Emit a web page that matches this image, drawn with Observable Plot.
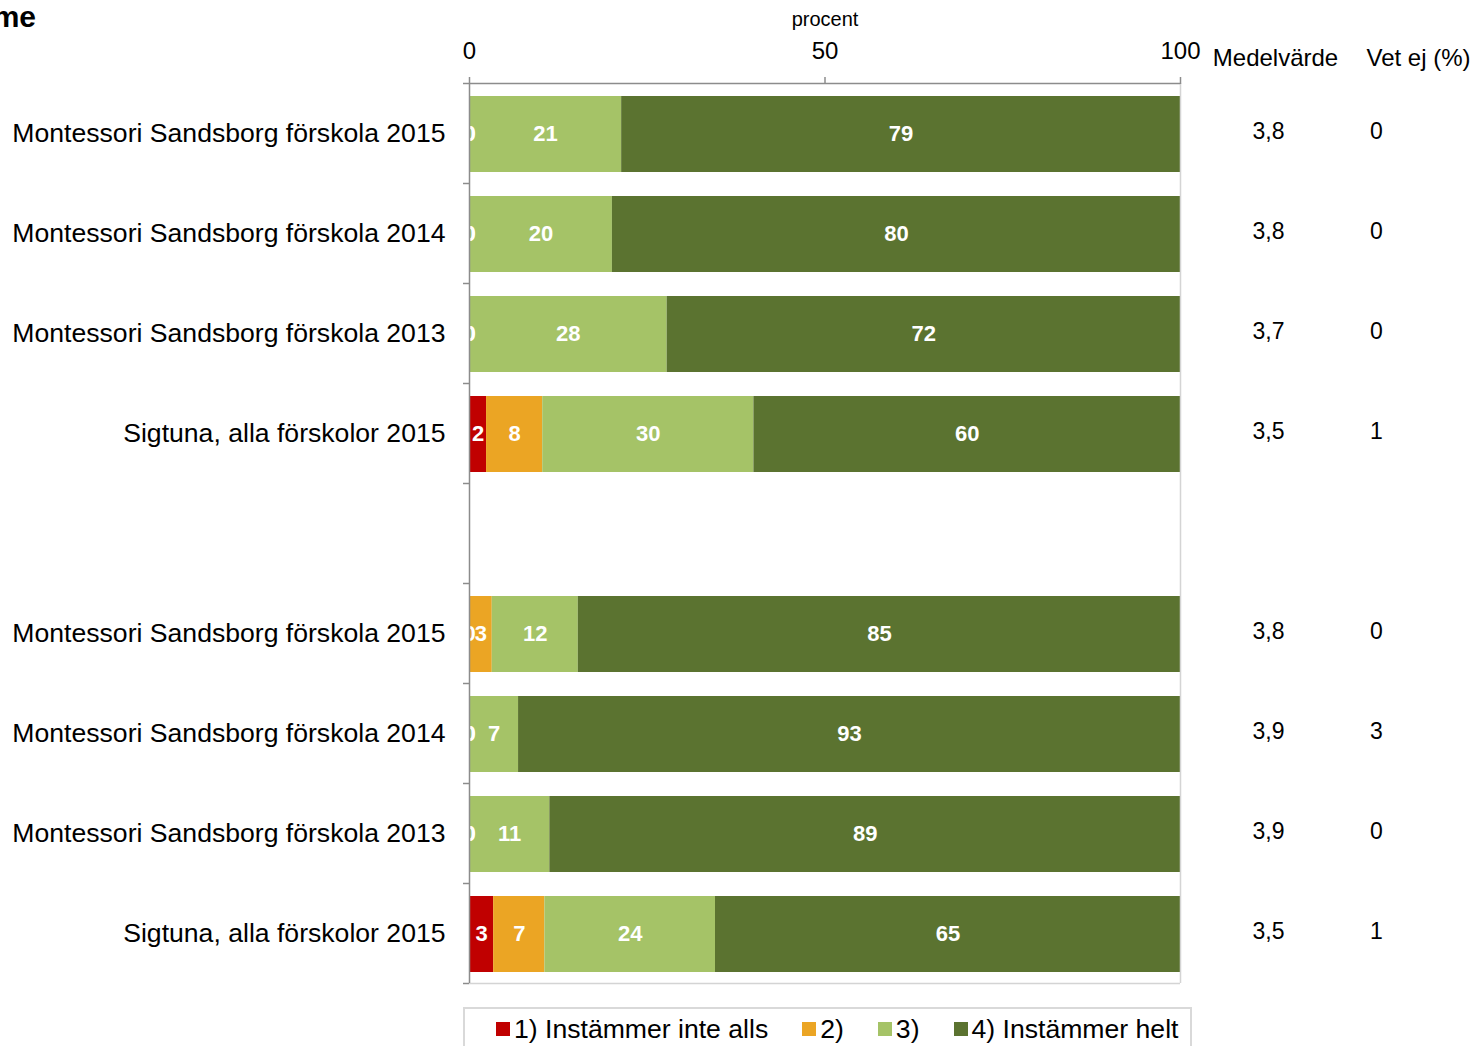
<!DOCTYPE html>
<html><head><meta charset="utf-8">
<script src="https://cdn.jsdelivr.net/npm/d3@7"></script>
<script src="https://cdn.jsdelivr.net/npm/@observablehq/plot@0.6"></script>
<style>
body{margin:0;background:#fff;font-family:"Liberation Sans",Arial,sans-serif;}
#wrap{position:relative;width:1474px;height:1046px;overflow:hidden;}
#title{position:absolute;right:calc(1474px - 36px);top:1px;font-weight:bold;font-size:30px;line-height:32px;white-space:nowrap;}
#chart svg{display:block;}
#legend{position:absolute;left:463px;top:1007px;width:729px;height:50px;border:2px solid #d9d9d9;border-bottom:none;display:flex;align-items:flex-start;padding-top:5px;box-sizing:border-box;padding-left:31px;white-space:nowrap;}
.item{display:flex;align-items:center;margin-right:34px;font-size:26.6px;line-height:30px;color:#000;flex-shrink:0;white-space:nowrap;}
.sw{width:14px;height:14px;margin-right:4px;flex-shrink:0;}
</style></head><body>
<div id="wrap"><div id="title">me</div><div id="chart"></div><div id="legend"></div></div>
<script>
const rowLabels = [
  "Montessori Sandsborg förskola 2015",
  "Montessori Sandsborg förskola 2014",
  "Montessori Sandsborg förskola 2013",
  "Sigtuna, alla förskolor 2015",
  "Montessori Sandsborg förskola 2015",
  "Montessori Sandsborg förskola 2014",
  "Montessori Sandsborg förskola 2013",
  "Sigtuna, alla förskolor 2015"
];
const slots = [0, 1, 2, 3, 5, 6, 7, 8];
const cat1 = [0, 0, 0, 2.4, 0, 0, 0, 3.4];
const cat2 = [0, 0, 0, 7.9, 3.2, 0, 0, 7.2];
const cat3 = [21.4, 20.1, 27.8, 29.7, 12.1, 6.9, 11.3, 24];
const cat4 = [78.6, 79.9, 72.2, 60, 84.7, 93.1, 88.7, 65.4];
const medel = ["3,8", "3,8", "3,7", "3,5", "3,8", "3,9", "3,9", "3,5"];
const vetej = ["0", "0", "0", "1", "0", "3", "0", "1"];
const categories = ["1) Instämmer inte alls", "2)", "3)", "4) Instämmer helt"];
const colors = ["#C00000", "#EBA524", "#A5C367", "#5B7330"];
const xTicks = [0, 50, 100];
const yBoundaries = [0, 1, 2, 3, 4, 5, 6, 7, 8, 9];

const segs = [];
rowLabels.forEach((lab, i) => {
  let acc = 0;
  [cat1, cat2, cat3, cat4].forEach((arr, k) => {
    const v = arr[i];
    segs.push({slot: slots[i], cat: categories[k], x1: acc, x2: acc + v, v, mid: acc + v / 2});
    acc += v;
  });
});
const rows = rowLabels.map((label, i) => ({label, slot: slots[i], medel: medel[i], vetej: vetej[i]}));

const font = "Liberation Sans, Arial, sans-serif";
const chart = Plot.plot({
  width: 1474,
  height: 1000,
  marginLeft: 469,
  marginRight: 294,
  marginTop: 83,
  marginBottom: 17,
  style: {fontFamily: font, background: "white"},
  x: {domain: [0, 100]},
  y: {domain: [0, 9], reverse: true},
  color: {domain: categories, range: colors},
  marks: [
    Plot.rectX(segs, {x1: "x1", x2: "x2", y1: d => d.slot, y2: d => d.slot + 1, fill: "cat", insetTop: 13, insetBottom: 11}),
    Plot.text(segs, {x: "mid", y: d => d.slot + 0.5, text: d => String(Math.round(d.v)), fill: "white", fontWeight: "bold", fontSize: 22, clip: true}),
    Plot.ruleX([100], {stroke: "#d4d4d4", strokeWidth: 1.5}),
    Plot.ruleY([9], {stroke: "#d4d4d4", strokeWidth: 1.5}),
    Plot.ruleY([0], {stroke: "#8c8c8c", strokeWidth: 1.5}),
    Plot.ruleX([0], {stroke: "#8c8c8c", strokeWidth: 1.5}),
    Plot.axisX(xTicks, {anchor: "top", tickSize: 7, tickPadding: 18, fontSize: 24, stroke: "#8c8c8c", fill: "black", label: null, strokeWidth: 1.5}),
    Plot.axisY(yBoundaries, {anchor: "left", tickSize: 6, tickFormat: () => "", stroke: "#8c8c8c", label: null, strokeWidth: 1.5}),
    Plot.text(["procent"], {frameAnchor: "top", dy: -64, lineAnchor: "middle", fontSize: 20, fill: "black"}),
    Plot.text(rows, {frameAnchor: "left", y: d => d.slot + 0.5, text: "label", textAnchor: "end", dx: -24, fontSize: 26.6, fill: "black"}),
    Plot.text(rows, {frameAnchor: "right", y: d => d.slot + 0.5, text: "medel", textAnchor: "middle", dx: 88, dy: -2, fontSize: 23, fill: "black"}),
    Plot.text(rows, {frameAnchor: "right", y: d => d.slot + 0.5, text: "vetej", textAnchor: "middle", dx: 196, dy: -2, fontSize: 23, fill: "black"}),
    Plot.text(["Medelvärde"], {frameAnchor: "top-right", textAnchor: "middle", lineAnchor: "middle", dx: 95, dy: -25, fontSize: 24, fill: "black"}),
    Plot.text(["Vet ej (%)"], {frameAnchor: "top-right", textAnchor: "middle", lineAnchor: "middle", dx: 238, dy: -25, fontSize: 24, fill: "black"})
  ]
});
document.getElementById("chart").appendChild(chart);

const legend = document.getElementById("legend");
categories.forEach((c, i) => {
  const it = document.createElement("div");
  it.className = "item";
  const sw = document.createElement("span");
  sw.className = "sw";
  sw.style.background = colors[i];
  const t = document.createElement("span");
  t.textContent = c;
  it.appendChild(sw); it.appendChild(t);
  legend.appendChild(it);
});
</script>
</body></html>
